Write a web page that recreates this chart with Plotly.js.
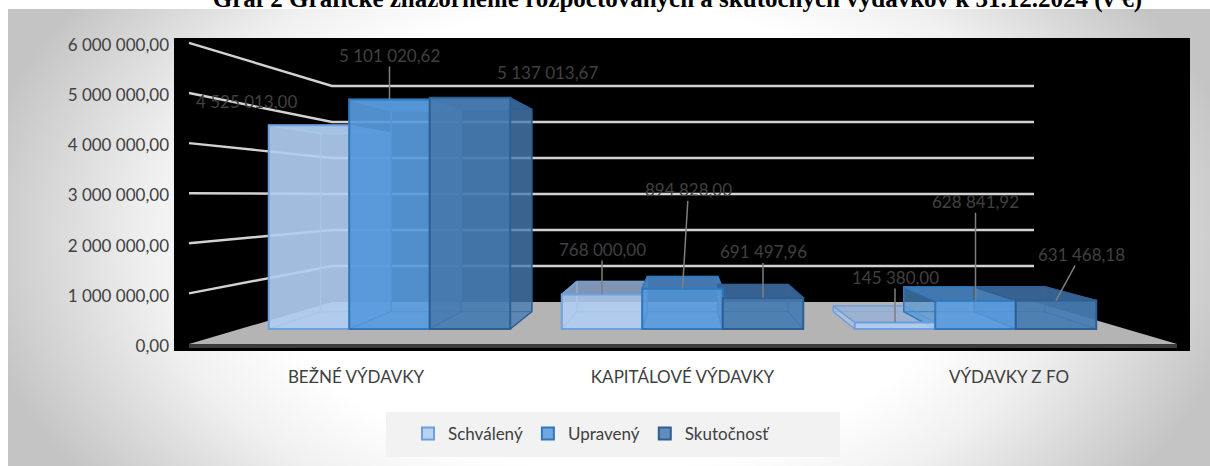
<!DOCTYPE html>
<html><head><meta charset="utf-8">
<script src="https://cdn.plot.ly/plotly-3.0.1.min.js"></script>
<style>
html,body{margin:0;padding:0;background:#fff;width:1210px;height:466px;overflow:hidden}
#bg{position:absolute;left:8px;top:9px;width:1202px;height:457px;background:radial-gradient(ellipse 640px 420px at 50% 50%,#fff 55%,#f0f0f0 72%,#c4c4c4 100%)}
#chart{position:absolute;left:0;top:0;width:1210px;height:466px}
</style></head><body><div id="bg"></div><div id="chart"></div>
<script>
const categories=['BEŽNÉ VÝDAVKY','KAPITÁLOVÉ VÝDAVKY','VÝDAVKY Z FO'];
const seriesNames=['Schválený','Upravený','Skutočnosť'];
const schvaleny=[4525013.00,768000.00,145380.00];
const upraveny=[5101020.62,894828.00,628841.92];
const skutocnost=[5137013.67,691497.96,631468.18];
const tickValues=[0,1000000,2000000,3000000,4000000,5000000,6000000];
const titleText='Graf 2 Grafické znázornenie rozpočtovaných a skutočných výdavkov k 31.12.2024 (v €)';

function fmt(v){const p=v.toFixed(2).split('.');return p[0].replace(/\B(?=(\d{3})+$)/g,'\u00a0')+','+p[1];}
const FONT='Lato, sans-serif';
const INK='#404040';

// projection geometry of the pseudo-3D scene
const L=174,R=1190,T=38,B=351;
const unitX=293,cx0=389.5,unitY=45,baseY=329;
const dx=p=>(p-cx0)/unitX, dy=p=>(baseY-p)/unitY*1e6;
const barW=80.5/unitX;
const vanish=[dx(683),dy(190)],depth=0.875;
const proj=(x,y,s)=>[vanish[0]+(x-vanish[0])*s,vanish[1]+(y-vanish[1])*s];
const xR=[dx(L),dx(R)],yR=[dy(B),dy(T)];

const values=[schvaleny,upraveny,skutocnost];
const palette=[
 {front:'rgba(176,205,240,0.86)',side:'rgba(170,200,236,0.42)',top:'rgba(150,175,210,0.72)',edge:'#6f9fdc'},
 {front:'rgba(88,155,222,0.86)',side:'rgba(82,150,216,0.42)',top:'rgba(72,130,190,0.85)',edge:'#2f78bd'},
 {front:'rgba(72,125,178,0.86)',side:'rgba(72,125,178,0.55)',top:'rgba(56,100,148,0.92)',edge:'#2f5f92'}];

function polyTrace(polys,fill,line,w){
  const x=[],y=[];
  polys.forEach(p=>{p.forEach(q=>{x.push(q[0]);y.push(q[1]);});x.push(p[0][0],null);y.push(p[0][1],null);});
  return {type:'scatter',mode:w?'lines':'none',x,y,xaxis:'x2',yaxis:'y2',fill:'toself',fillcolor:fill,
    line:{color:line||'rgba(0,0,0,0)',width:w||0},hoverinfo:'skip',showlegend:false,connectgaps:false};
}
const data=[];
// hidden carrier of the category axis
data.push({type:'scatter',mode:'none',x:categories,y:[0,0,0],xaxis:'x',yaxis:'y',hoverinfo:'skip',showlegend:false});
// floor
const pt=(a,b)=>[dx(a),dy(b)];
data.push(polyTrace([[pt(189,344),pt(332,302),pt(1034,302),pt(1177,344)]],'#b4b4b4'));
data.push(polyTrace([[pt(189,344),pt(1177,344),pt(1177,348),pt(189,348)]],'#3c3c3c'));
// gridlines on the walls
const gx=[],gy=[];
tickValues.slice(1).forEach(v=>{const m=v/1e6;
  gx.push(dx(189),dx(332),dx(1034),null);
  gy.push(dy(343.5-50.1*m+0),dy(302-36*m),dy(302-36*m),null);});
data.push({type:'scatter',mode:'lines',x:gx,y:gy,xaxis:'x2',yaxis:'y2',line:{color:'#d2d2d2',width:2.4},hoverinfo:'skip',showlegend:false,connectgaps:false});
// box faces behind the front faces
values.forEach((vals,si)=>{
  const back=[],bottom=[],left=[],right=[],top=[];
  vals.forEach((v,ci)=>{
    const x0=ci+(si-1.5)*barW,x1=x0+barW;
    const a=[x0,0],b=[x1,0],c=[x1,v],d=[x0,v];
    const A=proj(x0,0,depth),Bb=proj(x1,0,depth),C=proj(x1,v,depth),D=proj(x0,v,depth);
    back.push([A,Bb,C,D]);bottom.push([a,b,Bb,A]);left.push([a,d,D,A]);right.push([b,c,C,Bb]);top.push([d,c,C,D]);
  });
  const p=palette[si];
  data.push(polyTrace(back,p.side,p.edge,0.8));
  data.push(polyTrace(bottom,p.side,p.edge,0.8));
  data.push(polyTrace(left,p.side,p.edge,1.4));
  data.push(polyTrace(right,p.side,p.edge,1.4));
  data.push(polyTrace(top,p.top,p.edge,1.4));
});
// real bars: the front faces
values.forEach((vals,si)=>{
  data.push({type:'bar',name:seriesNames[si],x:categories,y:vals,xaxis:'x3',yaxis:'y3',
    marker:{color:palette[si].front,line:{color:palette[si].edge,width:2}},hoverinfo:'x+y+name'});
});

// data labels: [ax, ay, leader]
const labelPos=[
 [[-63,-24,false],[0,-44,true],[77,-25,false]],
 [[0,-45,true],[6,-99,true],[0,-46,true]],
 [[0,-45,true],[0,-99,true],[25,-46,true]]];
const annotations=[];
values.forEach((vals,si)=>vals.forEach((v,ci)=>{
  const o=labelPos[ci][si];
  const base={x:ci+(si-1)*barW,y:v,xref:'x2',yref:'y2',text:fmt(v),font:{family:FONT,size:17,color:INK}};
  if(o[2]) annotations.push(Object.assign(base,{showarrow:true,arrowhead:0,arrowwidth:1.5,arrowcolor:'#7f7f7f',ax:o[0],ay:o[1],standoff:0,borderpad:0}));
  else annotations.push(Object.assign(base,{showarrow:false,xshift:o[0],yshift:-o[1]}));
}));

const layout={
 width:1210,height:466,autosize:false,
 margin:{l:L,r:1210-R,t:T,b:466-B,pad:0},
 paper_bgcolor:'rgba(0,0,0,0)',plot_bgcolor:'#000',
 title:{text:titleText,font:{family:'Liberation Serif, serif',size:25,weight:700,color:'#000'},x:0.4955,xanchor:'center',xref:'paper',y:0.985,yanchor:'bottom',yref:'container'},
 font:{family:FONT,color:INK},
 barmode:'group',bargap:1-3*barW,bargroupgap:0,
 xaxis:{type:'category',categoryorder:'array',categoryarray:categories,range:[(L-356)/326.5,(R-356)/326.5],tickfont:{family:FONT,size:17,color:INK},ticks:'',showgrid:false,zeroline:false,showline:false,ticklabelstandoff:14,fixedrange:true},
 yaxis:{range:[-99700,6139000],tickmode:'array',tickvals:tickValues,ticktext:tickValues.map(fmt),tickfont:{family:FONT,size:17,color:INK},ticks:'',showgrid:false,zeroline:false,showline:false,ticklabelstandoff:4,fixedrange:true},
 xaxis2:{overlaying:'x',range:xR,visible:false,fixedrange:true},
 yaxis2:{overlaying:'y',range:yR,visible:false,fixedrange:true},
 xaxis3:{overlaying:'x',type:'category',categoryorder:'array',categoryarray:categories,range:xR,visible:false,fixedrange:true},
 yaxis3:{overlaying:'y',range:yR,visible:false,fixedrange:true},
 showlegend:true,
 legend:{orientation:'h',x:(408-L)/(R-L),xanchor:'left',y:(B-434)/(B-T),yanchor:'middle',bgcolor:'rgba(0,0,0,0)',font:{family:FONT,size:17,color:INK},traceorder:'normal',itemclick:false,itemdoubleclick:false},
 shapes:[{type:'rect',xref:'paper',yref:'paper',x0:(386-L)/(R-L),x1:(840-L)/(R-L),y0:(B-457)/(B-T),y1:(B-412)/(B-T),fillcolor:'#f2f2f2',line:{width:0},layer:'below'}],
 annotations
};
Plotly.newPlot('chart',data,layout,{displayModeBar:false,staticPlot:false});
</script></body></html>
